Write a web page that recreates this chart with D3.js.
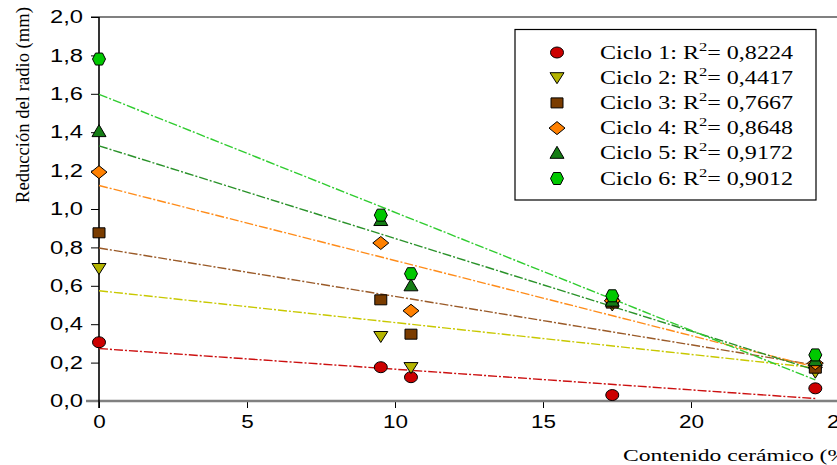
<!DOCTYPE html>
<html>
<head>
<meta charset="utf-8">
<script src="https://cdn.jsdelivr.net/npm/d3@7"></script>
<style>
  html, body { margin: 0; padding: 0; background: #fff; overflow: hidden; }
  svg { display: block; }
</style>
</head>
<body>
<svg id="chart" width="837" height="465"></svg>
<script>
// ---- data ----
const xValues = [0, 9.52, 10.54, 17.34, 24.2];
const seriesNames = ["Ciclo 1", "Ciclo 2", "Ciclo 3", "Ciclo 4", "Ciclo 5", "Ciclo 6"];
const r2Labels = ["0,8224", "0,4417", "0,7667", "0,8648", "0,9172", "0,9012"];
const ciclo1 = [0.306, 0.176, 0.124, 0.031, 0.066];
const ciclo2 = [0.69, 0.336, 0.174, 0.50, 0.15];
const ciclo3 = [0.876, 0.527, 0.348, 0.51, 0.171];
const ciclo4 = [1.192, 0.823, 0.47, 0.522, 0.197];
const ciclo5 = [1.403, 0.94, 0.60, 0.52, 0.21];
const ciclo6 = [1.781, 0.968, 0.663, 0.548, 0.24];
const yTicks = [0, 0.2, 0.4, 0.6, 0.8, 1.0, 1.2, 1.4, 1.6, 1.8, 2.0];
const xTicks = [0, 5, 10, 15, 20, 25];

const seriesValues = [ciclo1, ciclo2, ciclo3, ciclo4, ciclo5, ciclo6];
const markerTypes = ["circle", "triDown", "square", "diamond", "triUp", "hexagon"];
const fills = ["#cc0000", "#b4b400", "#7a3c00", "#ff8000", "#157d15", "#00c800"];
const lineColors = ["#cc1010", "#c8c800", "#9a5a28", "#ff8c1a", "#2a922a", "#30cc30"];

const svg = d3.select("#chart");
const x = d3.scaleLinear().domain([0, 25]).range([99, 839]);
const y = d3.scaleLinear().domain([0, 2]).range([401, 17]);

function fitLine(xs, ys) {
  const n = xs.length;
  const mx = d3.mean(xs), my = d3.mean(ys);
  let sxy = 0, sxx = 0;
  for (let i = 0; i < n; i++) { sxy += (xs[i] - mx) * (ys[i] - my); sxx += (xs[i] - mx) ** 2; }
  const b = sxy / sxx;
  return { a: my - b * mx, b };
}

function markerPath(type) {
  switch (type) {
    case "circle": return null;
    case "triDown": return "M-7,-5 L7,-5 L0,6 Z";
    case "triUp": return "M-7,5 L7,5 L0,-7 Z";
    case "square": return "M-6,-5 L6,-5 L6,5 L-6,5 Z";
    case "diamond": return "M-8,0 L0,-6.5 L8,0 L0,6.5 Z";
    case "hexagon": return "M-3.5,-6 L3.5,-6 L6.5,0 L3.5,6 L-3.5,6 L-6.5,0 Z";
  }
}

function drawMarker(g, type, cx, cy, fill) {
  if (type === "circle") {
    g.append("ellipse").attr("cx", cx).attr("cy", cy).attr("rx", 6.5).attr("ry", 5.5)
      .attr("fill", fill).attr("stroke", "#000").attr("stroke-width", 1);
  } else {
    g.append("path").attr("d", markerPath(type))
      .attr("transform", `translate(${cx},${cy})`)
      .attr("fill", fill).attr("stroke", "#000").attr("stroke-width", 1);
  }
}

// ---- frame ----
svg.append("line").attr("x1", 91).attr("x2", 837).attr("y1", y(2)).attr("y2", y(2))
  .attr("stroke", "#808080").attr("stroke-width", 2);

// y axis
const yAxis = d3.axisLeft(y).tickValues(yTicks).tickSize(8).tickPadding(8)
  .tickFormat(d => d3.format(".1f")(d).replace(".", ","));
const gy = svg.append("g").attr("transform", `translate(${x(0)},0)`).call(yAxis);
gy.select(".domain").remove();
gy.selectAll(".tick line").attr("stroke", "#000").attr("stroke-width", 1);
gy.selectAll(".tick text").attr("font-family", "Liberation Sans, Arial, sans-serif")
  .attr("font-size", 18).attr("fill", "#000")
  .attr("textLength", 33).attr("lengthAdjust", "spacingAndGlyphs");

// x axis
const xAxis = d3.axisBottom(x).tickValues(xTicks).tickSize(7).tickPadding(7).tickFormat(d3.format("d"));
const gx = svg.append("g").attr("transform", `translate(0,${y(0)})`).call(xAxis);
gx.select(".domain").remove();
gx.selectAll(".tick line").attr("stroke", "#000").attr("stroke-width", 1);
gx.selectAll(".tick text").attr("font-family", "Liberation Sans, Arial, sans-serif")
  .attr("font-size", 18).attr("fill", "#000")
  .each(function(d) { d3.select(this).attr("textLength", String(d).length * 12.5).attr("lengthAdjust", "spacingAndGlyphs"); });

svg.append("line").attr("x1", 86).attr("x2", 837).attr("y1", y(0)).attr("y2", y(0))
  .attr("stroke", "#808080").attr("stroke-width", 2.5);
svg.append("line").attr("x1", x(0)).attr("x2", x(0)).attr("y1", y(2)).attr("y2", y(0) + 7)
  .attr("stroke", "#000").attr("stroke-width", 1.6);

// ---- regression lines ----
const gl = svg.append("g");
seriesValues.forEach((vals, i) => {
  const f = fitLine(xValues, vals);
  const x0 = d3.min(xValues), x1 = d3.max(xValues);
  gl.append("line")
    .attr("x1", x(x0)).attr("y1", y(f.a + f.b * x0))
    .attr("x2", x(x1)).attr("y2", y(f.a + f.b * x1))
    .attr("stroke", lineColors[i]).attr("stroke-width", 1.4)
    .attr("stroke-dasharray", "9,2,2,2");
});

// ---- markers ----
const gm = svg.append("g");
seriesValues.forEach((vals, i) => {
  vals.forEach((v, j) => drawMarker(gm, markerTypes[i], x(xValues[j]), y(v), fills[i]));
});

// ---- legend ----
const lg = svg.append("g");
lg.append("rect").attr("x", 515).attr("y", 29.5).attr("width", 301).attr("height", 170.5)
  .attr("fill", "#fff").attr("stroke", "#000").attr("stroke-width", 1.2);
seriesNames.forEach((name, i) => {
  const ry = 52.5 + i * 25.2;
  drawMarker(lg, markerTypes[i], 557, ry, fills[i]);
  const t = lg.append("text").attr("x", 600).attr("y", ry + 6)
    .attr("font-family", "Liberation Serif, Times New Roman, serif").attr("font-size", 19)
    .attr("fill", "#000")
    .attr("textLength", 193).attr("lengthAdjust", "spacingAndGlyphs");
  t.append("tspan").text(name + ": R");
  t.append("tspan").attr("dy", -8).attr("font-size", 13).text("2");
  t.append("tspan").attr("dy", 8).text("= " + r2Labels[i]);
});

// ---- axis titles ----
svg.append("text")
  .attr("transform", "translate(29,105) rotate(-90)")
  .attr("text-anchor", "middle")
  .attr("font-family", "Liberation Serif, Times New Roman, serif").attr("font-size", 19)
  .attr("textLength", 196).attr("lengthAdjust", "spacingAndGlyphs")
  .text("Reducción del radio (mm)");
svg.append("text")
  .attr("x", 623).attr("y", 461)
  .attr("font-family", "Liberation Serif, Times New Roman, serif").attr("font-size", 17)
  .attr("textLength", 232).attr("lengthAdjust", "spacingAndGlyphs")
  .text("Contenido cerámico (%)");
</script>
</body>
</html>
